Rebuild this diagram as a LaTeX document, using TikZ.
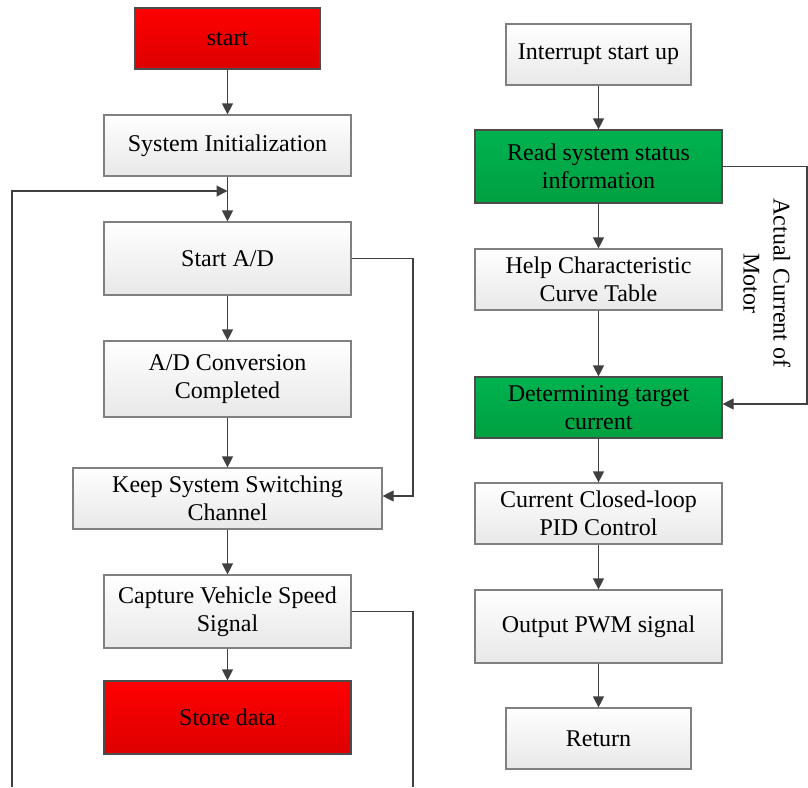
\documentclass[tikz,border=0pt]{standalone}
\usepackage{fontspec}
\setmainfont{Liberation Serif}
\usetikzlibrary{arrows.meta}
\definecolor{lineC}{HTML}{404040}
\definecolor{frameC}{HTML}{808080}
\definecolor{redTop}{HTML}{FF0000}
\definecolor{redBot}{HTML}{DD0000}
\definecolor{greenTop}{HTML}{00B24F}
\definecolor{greenBot}{HTML}{00A040}
\tikzset{
  box/.style={rectangle, draw=frameC, line width=1.2pt, top color=white, bottom color=black!9,
    align=center, inner sep=2pt, font=\fontsize{24}{27.6}\selectfont},
  redbox/.style={box, draw=black!70, top color=redTop, bottom color=redBot},
  greenbox/.style={box, draw=black!70, top color=greenTop, bottom color=greenBot},
  link/.style={draw=lineC, line width=1.2pt},
  arr/.style={link, -{Triangle[width=11pt,length=11pt]}},
}
\begin{document}
\begin{tikzpicture}[x=1pt,y=-1pt]
\path[use as bounding box] (0,0) rectangle (808,787);

% main routine
\node[redbox, minimum width=185pt, minimum height=61pt] (start) at (227.5,38.5) {start};
\node[box, minimum width=247pt, minimum height=61pt] (init) at (227.5,145.5) {System Initialization};
\node[box, minimum width=247pt, minimum height=73pt] (startad) at (227.5,258.5) {Start A/D};
\node[box, minimum width=247pt, minimum height=76pt] (adconv) at (227.5,379) {A/D Conversion\\Completed};
\node[box, minimum width=309pt, minimum height=61pt] (keep) at (227.5,498.5) {Keep System Switching\\Channel};
\node[box, minimum width=247pt, minimum height=73pt] (capture) at (227.5,611.5) {Capture Vehicle Speed\\Signal};
\node[redbox, minimum width=247pt, minimum height=73pt] (store) at (227.5,717.5) {Store data};

% interrupt routine
\node[box, minimum width=185pt, minimum height=61pt] (irq) at (598.5,54.5) {Interrupt start up};
\node[greenbox, minimum width=247pt, minimum height=73pt] (read) at (598.5,166.5) {Read system status\\information};
\node[box, minimum width=247pt, minimum height=61pt] (curve) at (598.5,279.5) {Help Characteristic\\Curve Table};
\node[greenbox, minimum width=247pt, minimum height=61pt] (target) at (598.5,407.5) {Determining target\\current};
\node[box, minimum width=247pt, minimum height=61pt] (pid) at (598.5,513.5) {Current Closed-loop\\PID Control};
\node[box, minimum width=247pt, minimum height=73pt] (pwm) at (598.5,626.5) {Output PWM signal};
\node[box, minimum width=185pt, minimum height=61pt] (ret) at (598.5,738.5) {Return};

\node[rotate=-90, align=center, font=\fontsize{24}{30}\selectfont] (motor) at (767,283) {Actual Current of\\Motor};

% helper points for the routed lines
\coordinate (join) at (227.5,191);
\coordinate (loopBot) at (12,787);
\coordinate (adR) at (413,496);
\coordinate (capBot) at (413,787);
\coordinate (fbR) at (807,404);

% main routine links
\draw[arr] (start) -- (init);
\draw[link] (init) -- (join);
\draw[arr] (join) -- (startad);
\draw[arr] (startad) -- (adconv);
\draw[arr] (adconv) -- (keep);
\draw[arr] (keep) -- (capture);
\draw[arr] (capture) -- (store);
\draw[arr] (loopBot) |- (join);
\draw[arr] (startad.east) -| (adR) -- (keep.east |- adR);
\draw[link] (capture.east) -| (capBot);

% interrupt routine links
\draw[arr] (irq) -- (read);
\draw[arr] (read) -- (curve);
\draw[arr] (curve) -- (target);
\draw[arr] (target) -- (pid);
\draw[arr] (pid) -- (pwm);
\draw[arr] (pwm) -- (ret);
\draw[arr] (read.east) -| (fbR) -- (target.east |- fbR);
\end{tikzpicture}
\end{document}
